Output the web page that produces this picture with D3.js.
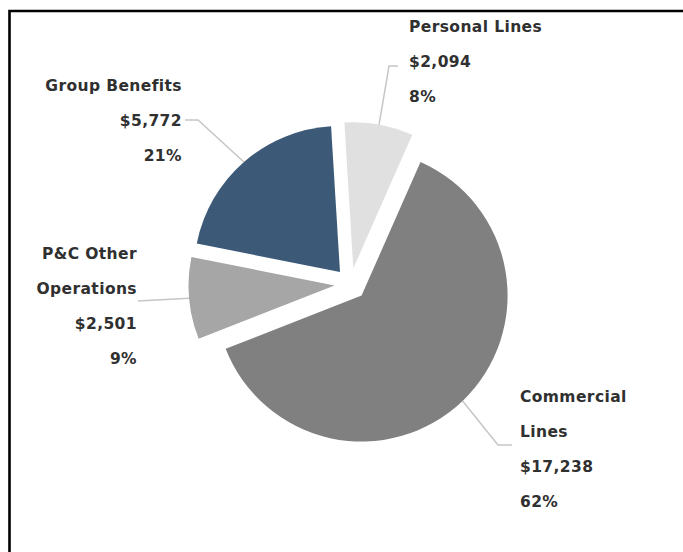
<!DOCTYPE html>
<html>
<head>
<meta charset="utf-8">
<script src="https://cdn.jsdelivr.net/npm/d3@7"></script>
<style>
  html, body { margin: 0; padding: 0; background: #fff; }
  svg { display: block; }
  .lbl { font-family: "DejaVu Sans", sans-serif; font-weight: bold; font-size: 15.5px; letter-spacing: 0.4px; fill: #303030; }
</style>
</head>
<body>
<div id="chart"></div>
<script>
// data, clockwise from 12 o'clock
const categories = ["Personal Lines", "Commercial Lines", "P&C Other Operations", "Group Benefits"];
const nameLines = [["Personal Lines"], ["Commercial", "Lines"], ["P&C Other", "Operations"], ["Group Benefits"]];
const values = [2094, 17238, 2501, 5772];
const colors = ["#e0e0e0", "#808080", "#a6a6a6", "#3c5a78"];

// label placement (first line centre, anchor) and leader elbow / end
const labelLayout = [
    { x: 409, y: 26, anchor: "start", elbow: [389, 66], end: [398, 66] },
    { x: 520, y: 396, anchor: "start", elbow: [498, 445], end: [512, 445] },
    { x: 137, y: 253, anchor: "end", elbow: null, end: [138, 301] },
    { x: 182, y: 85, anchor: "end", elbow: [198, 120], end: [185, 120] }
];

const W = 683, H = 552;
const cx = 350.5, cy = 284;
const radius = 146;
const explode = 16;
const lineGap = 35;
const start = -3.5 * Math.PI / 180;

const svg = d3.select("#chart")
    .append("svg")
    .attr("width", W)
    .attr("height", H);

svg.append("rect")
    .attr("width", W)
    .attr("height", H)
    .attr("fill", "#fff");

// frame (only top / left visible in the crop)
svg.append("path")
    .attr("d", `M9.5,${H} V11 H${W}`)
    .attr("fill", "none")
    .attr("stroke", "#000")
    .attr("stroke-width", 2.6);

const total = d3.sum(values);

const pie = d3.pie()
    .sort(null)
    .startAngle(start)
    .endAngle(start + 2 * Math.PI);

const arcs = pie(values);

const arc = d3.arc().innerRadius(0).outerRadius(radius);
const edge = d3.arc().innerRadius(radius).outerRadius(radius);

const g = svg.append("g")
    .attr("transform", `translate(${cx},${cy})`);

const offset = d => {
    const a = (d.startAngle + d.endAngle) / 2;
    return [Math.sin(a) * explode, -Math.cos(a) * explode];
};

// =========================
// SLICES
// =========================
g.selectAll("path.slice")
    .data(arcs)
    .enter()
    .append("path")
    .attr("class", "slice")
    .attr("transform", d => `translate(${offset(d)})`)
    .attr("fill", (d, i) => colors[i])
    .attr("d", arc);

// =========================
// LEADER LINES
// =========================
arcs.forEach((d, i) => {
    const o = offset(d);
    const c = edge.centroid(d);
    const s = [cx + o[0] + c[0], cy + o[1] + c[1]];
    const L = labelLayout[i];
    const pts = L.elbow ? [s, L.elbow, L.end] : [s, L.end];
    svg.append("path")
        .attr("d", d3.line()(pts))
        .attr("fill", "none")
        .attr("stroke", "#c6c6c6")
        .attr("stroke-width", 1.5);
});

// =========================
// LABELS
// =========================
arcs.forEach((d, i) => {
    const L = labelLayout[i];
    const lines = nameLines[i].concat([
        "$" + d3.format(",")(values[i]),
        Math.round(values[i] / total * 100) + "%"
    ]);
    const t = svg.append("text")
        .attr("class", "lbl")
        .attr("text-anchor", L.anchor);
    lines.forEach((s, k) => {
        t.append("tspan")
            .attr("x", L.x)
            .attr("y", L.y + k * lineGap)
            .attr("dy", "0.36em")
            .text(s);
    });
});
</script>
</body>
</html>
